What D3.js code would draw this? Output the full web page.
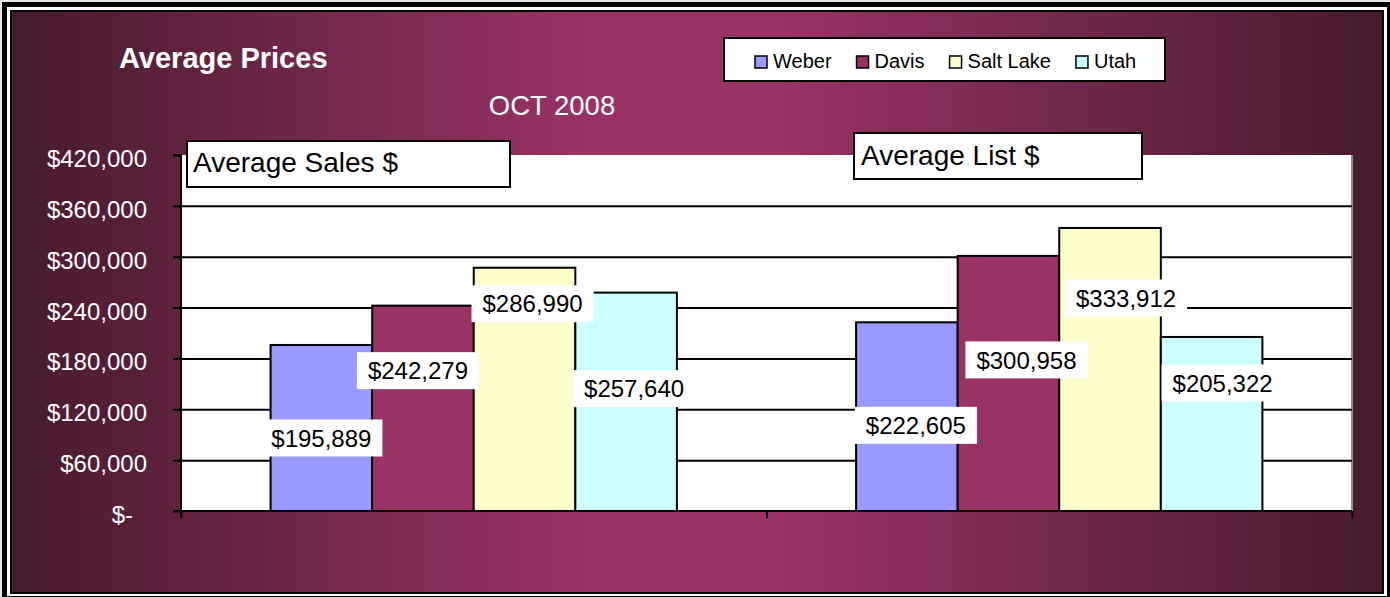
<!DOCTYPE html>
<html>
<head>
<meta charset="utf-8">
<script src="https://cdn.jsdelivr.net/npm/d3@7"></script>
<style>
  body { margin: 0; background: #e6e6e6; }
  svg { display: block; font-family: "Liberation Sans", Arial, sans-serif; }
</style>
</head>
<body>
<div class="viz"></div>
<script>
// data
const groups = ["Average Sales $", "Average List $"];
const series = ["Weber", "Davis", "Salt Lake", "Utah"];
const weber = [195889, 222605];
const davis = [242279, 300958];
const saltLake = [286990, 333912];
const utah = [257640, 205322];
const yTicks = [0, 60000, 120000, 180000, 240000, 300000, 360000, 420000];
const colors = ["#9999ff", "#993366", "#ffffcc", "#ccffff"];

const values = [weber, davis, saltLake, utah];

// hand-placed data labels (offset from bar top centre), like the moved Excel labels
const labelNudge = [
    [[0, 93], [-5, 65], [8, 36], [8, 96]],
    [[9, 103], [18, 104], [16, 70], [11, 46]]
];
// text boxes naming the two groups
const captionBox = [
    { x: 187, y: 141, w: 323, h: 46, tx: 193, ty: 172 },
    { x: 854, y: 133, w: 288, h: 46, tx: 861, ty: 165 }
];

const width = 1390, height = 597;
const plot = { left: 181, right: 1352, top: 155, bottom: 511 };

const svg = d3.select(".viz").append("svg")
    .attr("width", width)
    .attr("height", height);

// gradient background
const grad = svg.append("defs").append("linearGradient")
    .attr("id", "bg").attr("x1", "0%").attr("x2", "100%");
grad.append("stop").attr("offset", "0%").attr("stop-color", "#471a2e");
grad.append("stop").attr("offset", "42%").attr("stop-color", "#993366");
grad.append("stop").attr("offset", "56%").attr("stop-color", "#993366");
grad.append("stop").attr("offset", "100%").attr("stop-color", "#471a2e");

// frame
svg.append("rect").attr("x", 2).attr("y", 2).attr("width", width).attr("height", height).attr("fill", "#000");
svg.append("rect").attr("x", 7).attr("y", 7).attr("width", 1380).attr("height", 589).attr("fill", "#fff");
svg.append("rect").attr("x", 10).attr("y", 10).attr("width", 1374).attr("height", 584).attr("fill", "#000");
svg.append("rect").attr("x", 12).attr("y", 12).attr("width", 1370).attr("height", 580).attr("fill", "url(#bg)");

// plot area
svg.append("rect")
    .attr("x", plot.left).attr("y", plot.top)
    .attr("width", plot.right - plot.left).attr("height", plot.bottom - plot.top)
    .attr("fill", "#fff");
svg.append("line")
    .attr("x1", plot.right).attr("x2", plot.right)
    .attr("y1", plot.top).attr("y2", plot.bottom)
    .attr("stroke", "#8a8a8a").attr("stroke-width", 2);

// scales
const y = d3.scaleLinear().domain([0, 420000]).range([plot.bottom, plot.top]);
const x0 = d3.scaleBand().domain(groups).range([plot.left, plot.right]).padding(0);
const x1 = d3.scaleBand().domain(series).range([0, x0.bandwidth()])
    .paddingInner(0).paddingOuter(0.882);
const xEdge = d3.scaleLinear().domain([0, groups.length]).range([plot.left, plot.right]);

// gridlines
svg.append("g")
    .attr("transform", `translate(${plot.left},0)`)
    .call(d3.axisLeft(y).tickValues(yTicks.slice(1, -1)).tickSize(-(plot.right - plot.left)).tickFormat(""))
    .call(g => g.select(".domain").remove())
    .selectAll("line").attr("stroke", "#000").attr("stroke-width", 2);

// bars
groups.forEach((grp, gi) => {
    series.forEach((s, si) => {
        const v = values[si][gi];
        svg.append("rect")
            .attr("x", x0(grp) + x1(s))
            .attr("y", y(v))
            .attr("width", x1.bandwidth())
            .attr("height", y(0) - y(v))
            .attr("fill", colors[si])
            .attr("stroke", "#000")
            .attr("stroke-width", 2);
    });
});

// y axis
const yAxis = svg.append("g")
    .attr("transform", `translate(${plot.left},0)`)
    .call(d3.axisLeft(y).tickValues(yTicks).tickSize(8).tickPadding(26)
        .tickFormat(d => d === 0 ? "$-" : d3.format("$,")(d)));
yAxis.select(".domain").attr("stroke-width", 2).attr("d", `M-8,${plot.top}H0V${plot.bottom + 7}`);
yAxis.selectAll("line").attr("stroke-width", 2);
yAxis.selectAll("text")
    .attr("fill", "#fff")
    .style("font-size", "24px")
    .style("font-family", "'Liberation Sans', Arial, sans-serif")
    .attr("dy", "0.48em")
    .attr("dx", d => d === 0 ? -14 : 0);

// x axis (no labels, ticks at group edges)
const xAxis = svg.append("g")
    .attr("transform", `translate(0,${plot.bottom})`)
    .call(d3.axisBottom(xEdge).tickValues(d3.range(groups.length + 1)).tickSize(7).tickFormat(""));
xAxis.select(".domain").attr("stroke-width", 2).attr("d", `M${plot.left - 8},0H${plot.right}`);
xAxis.selectAll("line").attr("stroke-width", 2);

// data labels
groups.forEach((grp, gi) => {
    series.forEach((s, si) => {
        const v = values[si][gi];
        const cx = x0(grp) + x1(s) + x1.bandwidth() / 2 + labelNudge[gi][si][0];
        const cy = y(v) + labelNudge[gi][si][1];
        const lab = svg.append("g");
        const t = lab.append("text")
            .attr("x", cx).attr("y", cy)
            .attr("text-anchor", "middle")
            .attr("dy", "0.36em")
            .style("font-size", "24px")
            .attr("fill", "#000")
            .text(d3.format("$,")(v));
        const w = t.node().getComputedTextLength() + 22;
        lab.insert("rect", "text")
            .attr("x", cx - w / 2).attr("y", cy - 18.5)
            .attr("width", w).attr("height", 37)
            .attr("fill", "#fff");
    });
});

// group caption boxes
groups.forEach((grp, gi) => {
    const b = captionBox[gi];
    svg.append("rect")
        .attr("x", b.x).attr("y", b.y).attr("width", b.w).attr("height", b.h)
        .attr("fill", "#fff").attr("stroke", "#000").attr("stroke-width", 2);
    svg.append("text")
        .attr("x", b.tx).attr("y", b.ty)
        .style("font-size", "28px")
        .text(grp);
});

// titles
svg.append("text")
    .attr("x", 119).attr("y", 68)
    .attr("fill", "#fff")
    .style("font-size", "29px")
    .style("font-weight", "bold")
    .text("Average Prices");
svg.append("text")
    .attr("x", 552).attr("y", 115)
    .attr("text-anchor", "middle")
    .attr("fill", "#fff")
    .style("font-size", "27.5px")
    .text("OCT 2008");

// legend
const legend = svg.append("g");
legend.append("rect")
    .attr("x", 724).attr("y", 38).attr("width", 441).attr("height", 43)
    .attr("fill", "#fff").attr("stroke", "#000").attr("stroke-width", 2);
let lx = 755;
series.forEach((s, si) => {
    legend.append("rect")
        .attr("x", lx).attr("y", 56).attr("width", 12).attr("height", 12)
        .attr("fill", colors[si]).attr("stroke", "#000").attr("stroke-width", 1.5);
    const t = legend.append("text")
        .attr("x", lx + 18).attr("y", 68)
        .style("font-size", "20px")
        .text(s);
    lx += 18 + t.node().getComputedTextLength() + 25;
});
</script>
</body>
</html>
